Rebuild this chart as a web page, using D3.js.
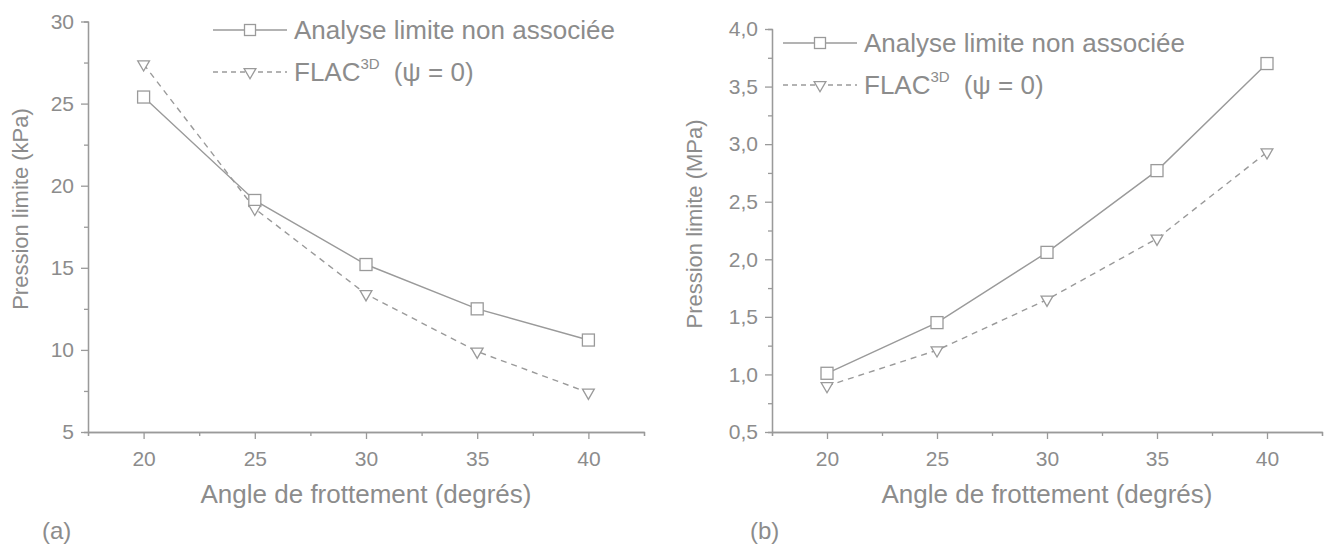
<!DOCTYPE html>
<html>
<head>
<meta charset="utf-8">
<script src="https://cdn.jsdelivr.net/npm/d3@7"></script>
<style>
body { margin:0; background:#fff; }
text { font-family:"Liberation Sans", Arial, sans-serif; fill:#8c8c8c; }
.axis path, .axis line { stroke:#9a9a9a; stroke-width:1.3; }
.axis text { font-size:21px; fill:#8c8c8c; }
</style>
</head>
<body>
<script>
// data
var angles = [20, 25, 30, 35, 40];
var kpaAnalyse = [25.4, 19.1, 15.2, 12.5, 10.6];
var kpaFlac = [27.4, 18.6, 13.4, 9.9, 7.4];
var mpaAnalyse = [1.01, 1.45, 2.06, 2.77, 3.70];
var mpaFlac = [0.90, 1.21, 1.65, 2.18, 2.93];
var xTicks = [20, 25, 30, 35, 40];
var yTicksA = [5, 10, 15, 20, 25, 30];
var yTicksB = [0.5, 1.0, 1.5, 2.0, 2.5, 3.0, 3.5, 4.0];
var seriesNames = ["Analyse limite non associée", "FLAC"];

var W = 1329, H = 548;
var svg = d3.select("body").append("svg")
    .attr("width", W).attr("height", H);

var grey = "#9a9a9a";

function panel(opt) {
  var x = d3.scaleLinear().domain([17.5, 42.5]).range([opt.left, opt.right]);
  var y = d3.scaleLinear().domain(opt.yDomain).range([opt.bottom, opt.top]);
  var g = svg.append("g");

  // minor ticks
  var xMinor = d3.range(17.5, 42.6, 5);
  var yStep = (opt.yTicks[1] - opt.yTicks[0]) / 2;
  var yMinor = opt.yTicks.slice(0, -1).map(v => v + yStep);

  g.append("g").attr("class", "axis")
    .attr("transform", `translate(0,${opt.bottom})`)
    .call(d3.axisBottom(x).tickValues(xMinor).tickSize(4).tickFormat(""));
  g.append("g").attr("class", "axis")
    .attr("transform", `translate(0,${opt.bottom})`)
    .call(d3.axisBottom(x).tickValues(xTicks).tickSize(7).tickPadding(12).tickSizeOuter(0));

  g.append("g").attr("class", "axis")
    .attr("transform", `translate(${opt.left},0)`)
    .call(d3.axisLeft(y).tickValues(yMinor).tickSize(4).tickFormat(""));
  g.append("g").attr("class", "axis")
    .attr("transform", `translate(${opt.left},0)`)
    .call(d3.axisLeft(y).tickValues(opt.yTicks).tickSize(7).tickPadding(7).tickSizeOuter(0)
      .tickFormat(opt.fmt));

  g.selectAll(".axis path.domain").attr("fill", "none");

  var line = d3.line().x((d, i) => x(angles[i])).y(d => y(d));

  g.append("path").datum(opt.a)
    .attr("d", line).attr("fill", "none")
    .attr("stroke", grey).attr("stroke-width", 1.4);
  g.append("path").datum(opt.f)
    .attr("d", line).attr("fill", "none")
    .attr("stroke", grey).attr("stroke-width", 1.4)
    .attr("stroke-dasharray", "6,5");

  g.selectAll(".sq").data(opt.a).enter().append("rect")
    .attr("x", (d, i) => x(angles[i]) - 6)
    .attr("y", d => y(d) - 6)
    .attr("width", 12).attr("height", 12)
    .attr("fill", "#fff").attr("stroke", grey).attr("stroke-width", 1.3);

  var tri = d3.symbol().type(d3.symbolTriangle).size(60);
  g.selectAll(".tri").data(opt.f).enter().append("path")
    .attr("d", tri)
    .attr("transform", (d, i) => `translate(${x(angles[i])},${y(d)}) rotate(180)`)
    .attr("fill", "#fff").attr("stroke", grey).attr("stroke-width", 1.3);

  // axis titles
  g.append("text")
    .attr("transform", `translate(${opt.ylabX},${opt.ylabY}) rotate(-90)`)
    .attr("text-anchor", "middle")
    .attr("font-size", 22)
    .text(opt.ylab);
  g.append("text")
    .attr("x", x(30)).attr("y", 503)
    .attr("text-anchor", "middle")
    .attr("font-size", 26)
    .text("Angle de frottement (degrés)");
  g.append("text")
    .attr("x", opt.tagX).attr("y", 539)
    .attr("font-size", 24)
    .text(opt.tag);

  // legend
  var lx = opt.legX, ly = opt.legY, lw = 74;
  var leg = g.append("g");
  leg.append("line").attr("x1", lx).attr("x2", lx + lw).attr("y1", ly).attr("y2", ly)
    .attr("stroke", grey).attr("stroke-width", 1.4);
  leg.append("rect").attr("x", lx + lw / 2 - 5.5).attr("y", ly - 5.5)
    .attr("width", 11).attr("height", 11)
    .attr("fill", "#fff").attr("stroke", grey).attr("stroke-width", 1.3);
  leg.append("text").attr("x", lx + lw + 7).attr("y", ly + 9)
    .attr("font-size", 26).text(seriesNames[0]);

  var ly2 = ly + opt.legGap;
  leg.append("line").attr("x1", lx).attr("x2", lx + lw).attr("y1", ly2).attr("y2", ly2)
    .attr("stroke", grey).attr("stroke-width", 1.4).attr("stroke-dasharray", "5,4");
  leg.append("path").attr("d", tri)
    .attr("transform", `translate(${lx + lw / 2},${ly2}) rotate(180)`)
    .attr("fill", "#fff").attr("stroke", grey).attr("stroke-width", 1.3);
  var t = leg.append("text").attr("x", lx + lw + 7).attr("y", ly2 + 9).attr("font-size", 26);
  t.append("tspan").text(seriesNames[1]);
  t.append("tspan").attr("font-size", 15).attr("dy", -12).text("3D");
  t.append("tspan").attr("dy", 12).attr("dx", 14).text("(ψ = 0)");
}

panel({
  left: 88, right: 644, top: 21.5, bottom: 432,
  yDomain: [5, 30], yTicks: yTicksA, fmt: d3.format("d"),
  a: kpaAnalyse, f: kpaFlac,
  ylab: "Pression limite (kPa)", ylabX: 28, ylabY: 209, tag: "(a)", tagX: 42,
  legX: 213, legY: 30, legGap: 42
});

panel({
  left: 772, right: 1322, top: 29, bottom: 432,
  yDomain: [0.5, 4.0], yTicks: yTicksB, fmt: d => d3.format(".1f")(d).replace(".", ","),
  a: mpaAnalyse, f: mpaFlac,
  ylab: "Pression limite (MPa)", ylabX: 702, ylabY: 224, tag: "(b)", tagX: 750,
  legX: 783, legY: 43, legGap: 42
});
</script>
</body>
</html>
